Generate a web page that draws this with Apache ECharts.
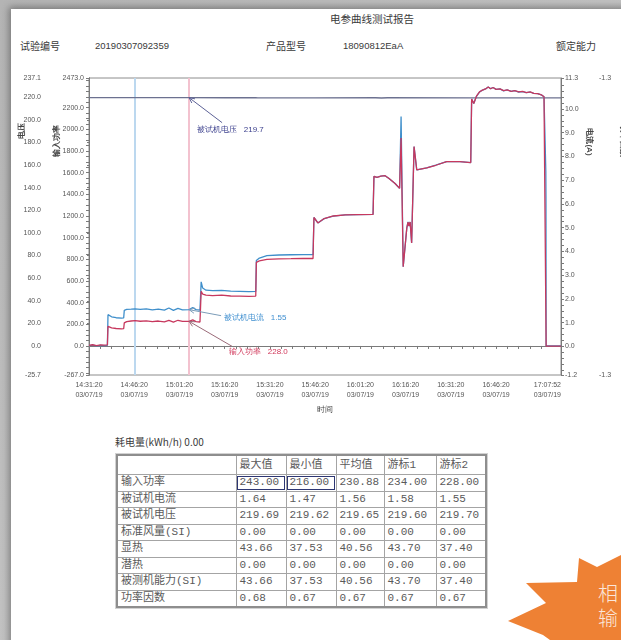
<!DOCTYPE html>
<html>
<head>
<meta charset="utf-8">
<script src="https://cdn.jsdelivr.net/npm/echarts@6/dist/echarts.min.js"></script>
<style>
  html, body { margin: 0; padding: 0; }
  body {
    width: 621px; height: 640px; overflow: hidden; position: relative;
    background: linear-gradient(135deg, #b4b4b4 0%, #cfcfcf 100%);
    font-family: "Noto Sans CJK SC", "Noto Sans", sans-serif;
  }
  #card {
    position: absolute; left: 11px; top: 9px; width: 660px; height: 680px;
    background: #fff; box-shadow: -2px -2px 7px rgba(0,0,0,0.35);
  }
  #chart { position: absolute; left: 0; top: 0; width: 621px; height: 420px; }
  .t { position: absolute; white-space: nowrap; color: #3a3a3a; font-size: 10px; line-height: 12px; }
  .num { font-family: "Liberation Sans", sans-serif; font-size: 9.5px; }
  #tbl {
    position: absolute; left: 116px; top: 454px; width: 369px;
    border-collapse: collapse; table-layout: fixed;
    border: 2px solid #8e8e8e; outline: 1px solid #d2d2d2;
    font-family: "Liberation Mono", "Noto Sans CJK SC", monospace;
    font-size: 11px; color: #5a5a5a;
  }
  #tbl td {
    border: 1px solid #a4a4a4; padding: 0 0 0 3px; height: 15.5px; line-height: 15px;
    overflow: hidden; white-space: nowrap;
  }
  #tbl tr.head td { height: 18px; line-height: 18px; }
  #tbl td.sel { outline: 1px solid #2d3672; outline-offset: -2px; }
  #burst {
    position: absolute; left: 500px; top: 540px; width: 121px; height: 100px;
    background: #ee8134;
    clip-path: polygon(79px 18px, 97px 27px, 121px 15px, 121px 100px, 50px 100px, 43px 95px, 8px 81px, 46px 63px, 26px 43px, 77px 42px);
  }
  .bt { position: absolute; left: 598px; color: #fbe6da; font-size: 20px; line-height: 22px; font-weight: 300; }
</style>
</head>
<body>
<div id="card"></div>

<div class="t" style="left:330px;top:13px;font-size:10.5px;">电参曲线测试报告</div>
<div class="t" style="left:20px;top:40px;">试验编号</div>
<div class="t num" style="left:95px;top:40px;">20190307092359</div>
<div class="t" style="left:266px;top:40px;">产品型号</div>
<div class="t num" style="left:343px;top:40px;">18090812EaA</div>
<div class="t" style="left:556px;top:40px;">额定能力</div>

<div id="chart"></div>

<div class="t" style="left:115px;top:436px;font-size:10px;" id="energy"></div>
<table id="tbl"></table>

<div id="burst"></div>
<div class="bt" style="top:582px;">相</div>
<div class="bt" style="top:607px;">输</div>

<script>
// ---- time axis (minutes after 14:31:20) ----
const END_MIN = 156 + 32 / 60;
const timeLabels = ['14:31:20', '14:46:20', '15:01:20', '15:16:20', '15:31:20', '15:46:20',
                    '16:01:20', '16:16:20', '16:31:20', '16:46:20', '17:07:52'];
const timeTickMinutes = [0, 15, 30, 45, 60, 75, 90, 105, 120, 135, END_MIN];
const dateLabel = '03/07/19';

// ---- axis tick labels ----
const voltageTicks = [-25.7, 0, 20, 40, 60, 80, 100, 120, 140, 160, 180, 200, 220, 237.1];
const powerTicks = [-267, 0, 200, 400, 600, 800, 1000, 1200, 1400, 1600, 1800, 2000, 2200, 2473];
const currentTicks = [-1.2, 0, 1, 2, 3, 4, 5, 6, 7, 8, 9, 10, 11.3];
const factorTicks = [-1.3, -1.29];

// ---- cursors (minutes) ----
const cursorTimes = [15.3, 33.2];
const cursorColors = ['#bcd8ef', '#f3c2cf'];

// ---- recorded curves: [minute, value] ----
const voltageSeries = [
  [0, 219.68], [10, 219.66], [20, 219.69], [33.2, 219.70], [45, 219.64], [55.3, 219.66],
  [56, 219.58], [75, 219.60], [95, 219.62], [97, 219.40], [99, 219.62], [127, 219.60],
  [151.6, 219.58], [END_MIN, 219.60]
];

const currentSeries = [
  [0, 0.04], [1.2, 0.06], [2.5, 0.03], [3.8, 0.05], [5.0, 0.04], [6.1, 0.05],
  [6.3, 1.34], [7.5, 1.25], [9.0, 1.21], [10.8, 1.19], [11.5, 1.20],
  [11.7, 1.52], [12.5, 1.56], [14.0, 1.57], [15.3, 1.58], [17, 1.56], [19, 1.58],
  [21, 1.54], [23, 1.57], [25, 1.53], [26.5, 1.62], [28, 1.52], [29.5, 1.60],
  [31, 1.54], [33.2, 1.55], [34.4, 1.64], [35.5, 1.55], [36.8, 1.53], [37.0, 1.55],
  [37.2, 2.72], [37.7, 2.46], [38.8, 2.37], [41, 2.35], [44, 2.36], [47, 2.33],
  [50, 2.32], [53, 2.31], [55.3, 2.32],
  [55.5, 3.62], [56.5, 3.72], [59, 3.82], [63, 3.85], [67, 3.86], [71, 3.87], [74.3, 3.87],
  [74.6, 5.43], [75.9, 5.20], [78, 5.38], [81, 5.49], [85, 5.54], [89, 5.55], [94.2, 5.56],
  [94.5, 7.16], [95.5, 7.12], [96.8, 7.17], [98.2, 7.19], [99.5, 7.07], [101.5, 6.86], [103.0, 6.66],
  [103.5, 9.68], [104.2, 3.36], [105.4, 4.99], [105.8, 5.24], [106.1, 5.07], [106.5, 5.24],
  [107.0, 4.36], [107.8, 8.41], [108.7, 7.43], [112, 7.52], [115, 7.63], [118.6, 7.78],
  [123, 7.78], [126.6, 7.74],
  [126.9, 10.42], [127.6, 10.23], [128.5, 10.53], [129.5, 10.71], [130.5, 10.79], [131.5, 10.84],
  [132.4, 10.92], [133.2, 10.85], [134.0, 10.90], [135.0, 10.82], [136.3, 10.84], [137.5, 10.76],
  [138.7, 10.80], [140.0, 10.74], [141.2, 10.77], [142.5, 10.71], [143.8, 10.73], [145.0, 10.68],
  [146.3, 10.71], [147.5, 10.65], [148.8, 10.64], [150.0, 10.59], [150.9, 10.51], [151.4, 10.43],
  [151.5, 7.40], [151.55, 6.30], [151.6, 0.03], [END_MIN, 0.03]
];

const powerSeries = [
  [0, 6], [1.2, 12], [2.5, 5], [3.8, 11], [5.0, 8], [6.1, 10],
  [6.3, 182], [7.5, 168], [9.0, 162], [10.8, 158], [11.5, 160],
  [11.7, 214], [12.5, 226], [14.0, 231], [15.3, 234], [17, 229], [19, 233],
  [21, 225], [23, 231], [25, 223], [26.5, 236], [28, 221], [29.5, 238],
  [31, 227], [33.2, 228], [34.4, 241], [35.5, 226], [36.8, 222], [37.0, 226],
  [37.2, 505], [37.7, 480], [38.8, 470], [41, 466], [44, 469], [47, 462],
  [50, 460], [53, 458], [55.3, 461],
  [55.5, 772], [56.5, 786], [59, 800], [63, 805], [67, 806], [71, 808], [74.3, 808],
  [74.6, 1186], [75.9, 1136], [78, 1176], [81, 1200], [85, 1210], [89, 1212], [94.2, 1214],
  [94.5, 1565], [95.5, 1556], [96.8, 1568], [98.2, 1572], [99.5, 1545], [101.5, 1500], [103.0, 1455],
  [103.5, 1920], [104.2, 732], [105.4, 1090], [105.8, 1144], [106.1, 1108], [106.5, 1144],
  [107.0, 951], [107.8, 1840], [108.7, 1625], [112, 1643], [115, 1668], [118.6, 1701],
  [123, 1701], [126.6, 1693],
  [126.9, 2280], [127.6, 2238], [128.5, 2305], [129.5, 2345], [130.5, 2362], [131.5, 2372],
  [132.4, 2390], [133.2, 2374], [134.0, 2385], [135.0, 2368], [136.3, 2372], [137.5, 2356],
  [138.7, 2364], [140.0, 2350], [141.2, 2356], [142.5, 2344], [143.8, 2350], [145.0, 2338],
  [146.3, 2345], [147.5, 2332], [148.8, 2328], [150.0, 2318], [150.9, 2300], [151.4, 2282],
  [151.6, 0], [END_MIN, 0]
];

// ---- summary table ----
const energyUse = 0.00;
const statColumns = ['最大值', '最小值', '平均值', '游标1', '游标2'];
const statRows = ['输入功率', '被试机电流', '被试机电压', '标准风量(SI)', '显热', '潜热', '被测机能力(SI)', '功率因数'];
const maxValues     = [243.00, 1.64, 219.69, 0.00, 43.66, 0.00, 43.66, 0.68];
const minValues     = [216.00, 1.47, 219.62, 0.00, 37.53, 0.00, 37.53, 0.67];
const avgValues     = [230.88, 1.56, 219.65, 0.00, 40.56, 0.00, 40.56, 0.67];
const cursor1Values = [234.00, 1.58, 219.60, 0.00, 43.70, 0.00, 43.70, 0.67];
const cursor2Values = [228.00, 1.55, 219.70, 0.00, 37.40, 0.00, 37.40, 0.67];

// ---------------------------------------------------------------
function fmt1(v) { return (Math.round(v * 10) / 10).toFixed(1); }

// evenly subdivided tick positions between two ends
function stepTicks(from, to, step, extra) {
  const out = [];
  for (let v = from; v <= to + 1e-9; v += step) out.push(Math.round(v * 1000) / 1000);
  return out.concat(extra);
}

const axisColor = '#7a7a7a';
const labelStyle = { fontSize: 7, color: '#555', fontFamily: 'Liberation Sans' };

const chart = echarts.init(document.getElementById('chart'), null, { renderer: 'canvas' });

const option = {
  animation: false,
  backgroundColor: 'transparent',
  grid: { left: 89, top: 78, width: 472, height: 297, show: true, borderColor: '#8c8c8c', borderWidth: 1 },
  xAxis: {
    type: 'value', min: 0, max: END_MIN,
    name: '时间', nameLocation: 'middle', nameGap: 31,
    nameTextStyle: { fontSize: 8, color: '#444' },
    axisLine: { lineStyle: { color: axisColor } },
    axisTick: { customValues: stepTicks(0, 150, 3.75, [END_MIN]), length: 3, lineStyle: { color: axisColor } },
    axisLabel: Object.assign({}, labelStyle, {
      customValues: timeTickMinutes, lineHeight: 10, margin: 5, alignMaxLabel: 'right',
      formatter: function (v) {
        const i = timeTickMinutes.findIndex(m => Math.abs(m - v) < 1e-6);
        return i < 0 ? '' : timeLabels[i] + '\n' + dateLabel;
      }
    }),
    splitLine: { show: false }
  },
  yAxis: [
    { // voltage
      type: 'value', position: 'left', offset: 44, min: -25.7, max: 237.1,
      axisLine: { show: true, lineStyle: { color: '#6a6a6a', type: 'dotted' } },
      axisTick: { customValues: voltageTicks, length: 2, lineStyle: { color: axisColor } },
      axisLabel: Object.assign({}, labelStyle, { customValues: voltageTicks, margin: 4, formatter: fmt1 }),
      splitLine: { show: false }
    },
    { // input power
      type: 'value', position: 'left', offset: 0, min: -267, max: 2473,
      axisLine: { show: true, lineStyle: { color: axisColor } },
      axisTick: { customValues: stepTicks(-250, 2450, 50, [-267, 2473]), length: 3, lineStyle: { color: axisColor } },
      axisLabel: Object.assign({}, labelStyle, { customValues: powerTicks, margin: 5, formatter: fmt1 }),
      splitLine: { show: false }
    },
    { // current
      type: 'value', position: 'right', offset: 0, min: -1.2, max: 11.3,
      axisLine: { show: true, lineStyle: { color: axisColor } },
      axisTick: { customValues: stepTicks(-1.0, 11.0, 0.25, [11.3, -1.2]), length: 3, lineStyle: { color: axisColor } },
      axisLabel: Object.assign({}, labelStyle, { customValues: currentTicks, margin: 4, formatter: fmt1 }),
      splitLine: { show: false }
    },
    { // power factor
      type: 'value', position: 'right', offset: 36, min: -1.3, max: -1.29,
      axisLine: { show: false }, axisTick: { show: false },
      axisLabel: Object.assign({}, labelStyle, { customValues: factorTicks, margin: 2, formatter: fmt1 }),
      splitLine: { show: false }
    }
  ],
  series: [
    {
      name: '被试机电压', type: 'line', yAxisIndex: 0, data: voltageSeries, z: 3,
      showSymbol: false, symbol: 'none', lineStyle: { color: '#6c7190', width: 1.3 }
    },
    {
      name: '被试机电流', type: 'line', yAxisIndex: 2, data: currentSeries, z: 3,
      showSymbol: false, symbol: 'none', lineStyle: { color: '#3f8fcb', width: 1.3 }
    },
    {
      name: '输入功率', type: 'line', yAxisIndex: 1, data: powerSeries, z: 3,
      showSymbol: false, symbol: 'none', lineStyle: { color: '#c7385e', width: 1.3 }
    }
  ]
};
chart.setOption(option);

// ---- axis titles, cursor lines and cursor call-outs ----
const graphics = [
  { type: 'text', x: 22, y: 131, rotation: Math.PI / 2,
    style: { text: '电压', fontSize: 8, fill: '#444', align: 'center', verticalAlign: 'middle', fontWeight: 'bold' } },
  { type: 'text', x: 57, y: 141, rotation: Math.PI / 2,
    style: { text: '输入功率', fontSize: 8, fill: '#444', align: 'center', verticalAlign: 'middle', fontWeight: 'bold' } },
  { type: 'text', x: 589, y: 142, rotation: -Math.PI / 2,
    style: { text: '电流(A)', fontSize: 8, fill: '#444', align: 'center', verticalAlign: 'middle', fontWeight: 'bold' } },
  { type: 'text', x: 623, y: 141, rotation: -Math.PI / 2,
    style: { text: '功率因数', fontSize: 8, fill: '#444', align: 'center', verticalAlign: 'middle', fontWeight: 'bold' } }
];

// cursor lines span the whole plot height
cursorTimes.forEach(function (m, i) {
  const top = chart.convertToPixel({ xAxisIndex: 0, yAxisIndex: 1 }, [m, 2473]);
  const bottom = chart.convertToPixel({ xAxisIndex: 0, yAxisIndex: 1 }, [m, -267]);
  const x = Math.round(top[0]) - 1;
  graphics.push({ type: 'rect', z: 1, silent: true,
    shape: { x: x, y: top[1], width: 2, height: bottom[1] - top[1] },
    style: { fill: cursorColors[i] } });
});

const callouts = [
  { axis: 0, value: cursor2Values[2], text: '被试机电压   ' + fmt1(cursor2Values[2]),
    color: '#3d418e', arrow: '#5c6196', label: [8, 32], from: [33, 25] },
  { axis: 2, value: cursor2Values[1], text: '被试机电流   ' + cursor2Values[1].toFixed(2),
    color: '#3f8fd0', arrow: '#7b9cb8', label: [35, 8], from: [32, 6] },
  { axis: 1, value: cursor2Values[0], text: '输入功率   ' + fmt1(cursor2Values[0]),
    color: '#d0375a', arrow: '#9a6a78', label: [40, 30], from: [43, 25] }
];

callouts.forEach(function (c) {
  const p = chart.convertToPixel({ xAxisIndex: 0, yAxisIndex: c.axis }, [cursorTimes[1], c.value]);
  const sx = p[0] + c.from[0], sy = p[1] + c.from[1];
  const dx = p[0] - sx, dy = p[1] - sy, len = Math.hypot(dx, dy);
  const ux = dx / len, uy = dy / len, head = 6, spread = 0.45;
  const back = [-ux, -uy];
  const rot = function (v, a) { return [v[0] * Math.cos(a) - v[1] * Math.sin(a), v[0] * Math.sin(a) + v[1] * Math.cos(a)]; };
  const l = rot(back, spread), r = rot(back, -spread);
  graphics.push({ type: 'line', shape: { x1: sx, y1: sy, x2: p[0], y2: p[1] },
    style: { stroke: c.arrow, lineWidth: 1 }, z: 10 });
  graphics.push({ type: 'polyline',
    shape: { points: [[p[0] + l[0] * head, p[1] + l[1] * head], [p[0], p[1]], [p[0] + r[0] * head, p[1] + r[1] * head]] },
    style: { stroke: c.arrow, lineWidth: 1, fill: null }, z: 10 });
  graphics.push({ type: 'text', x: p[0] + c.label[0], y: p[1] + c.label[1],
    style: { text: c.text, fontSize: 8, fill: c.color, align: 'left', verticalAlign: 'middle' }, z: 10 });
});

chart.setOption({ graphic: graphics });

// ---- summary table ----
document.getElementById('energy').textContent = '耗电量(kWh/h) ' + energyUse.toFixed(2);
const tbl = document.getElementById('tbl');
const colWidths = [119, 50, 50, 48, 52, 50];
let html = '<colgroup>' + colWidths.map(w => '<col style="width:' + w + 'px">').join('') + '</colgroup>';
html += '<tr class="head"><td></td>' + statColumns.map(c => '<td>' + c + '</td>').join('') + '</tr>';
const cols = [maxValues, minValues, avgValues, cursor1Values, cursor2Values];
statRows.forEach(function (name, r) {
  html += '<tr><td>' + name + '</td>';
  cols.forEach(function (col, c) {
    const sel = (r === 0 && c < 2) ? ' class="sel"' : '';
    html += '<td' + sel + '>' + col[r].toFixed(2) + '</td>';
  });
  html += '</tr>';
});
tbl.innerHTML = html;
</script>
</body>
</html>
